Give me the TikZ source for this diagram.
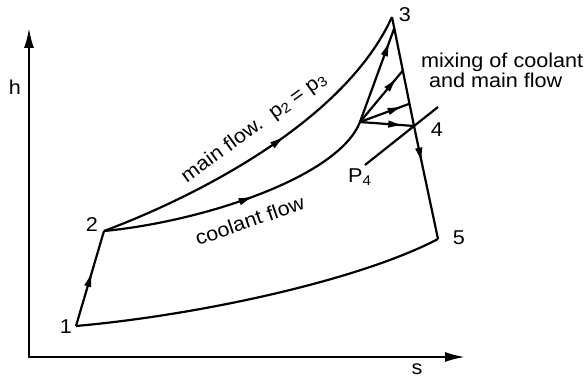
\documentclass[tikz,border=0pt]{standalone}
\usepackage{fontspec}
\setmainfont{Liberation Sans}[FakeStretch=1.08]
\usetikzlibrary{calc}
\usetikzlibrary{arrows.meta}
\usetikzlibrary{decorations.markings}
\newcommand\lowidx[1]{\raisebox{-2.5pt}{\fontsize{14}{14}\selectfont #1}}

\begin{document}
\begin{tikzpicture}[x=1pt,y=-1pt,line width=2.2pt,
  lbl/.style={font=\fontsize{20}{22}\selectfont,inner sep=0pt},
  flowarrow/.style={postaction={decorate},decoration={markings,mark=at position #1 with {\arrow{Latex[length=16pt,width=7.5pt]}}}}]
\def\axtip{Latex[length=20pt,width=10pt]}
\useasboundingbox (0,0) rectangle (584,379);

\coordinate (p1) at (76,326);
\coordinate (p2) at (104,231);
\coordinate (p3) at (392,17);
\coordinate (p4) at (414,126);
\coordinate (p5) at (438,239);
\coordinate (mix) at (360,122);
\coordinate (org) at (29,357);
\coordinate (htip) at (29,28);
\coordinate (stip) at (465,357);
\coordinate (isoA) at (365,165);
\coordinate (isoB) at (438,107);

% axes
\draw[{\axtip}-{\axtip}] (htip) -- (org) -- (stip);

% cycle
\draw[flowarrow=0.58] (p1) -- (p2);
\draw[flowarrow=0.56] (p2) .. controls (200,195) and (345,120) .. (p3);
\draw[flowarrow=0.54] (p2) .. controls (200,222) and (338,178) .. (mix);
\draw[flowarrow=0.66] (p3) -- (p4) -- (p5);
\draw (p1) .. controls (200,315) and (360,280) .. (p5);
\draw (isoA) -- (isoB);

% mixing fan
\foreach \f in {0.05,0.24,0.39} \draw[flowarrow=0.87] (mix) -- ($(p3)!\f!(p5)$);
\draw[flowarrow=0.82] (mix) -- (p4);

% labels
\node[lbl,anchor=base] (haxis) at (15,95) {h};
\node[lbl,anchor=base] (saxis) at (417,375) {s};
\foreach \n/\x/\y in {1/66/334, 2/92/232, 3/405/22, 4/437/137, 5/459/245}
  \node[lbl,anchor=base] (l\n) at (\x,\y) {\n};
\node[lbl,anchor=base west,rotate=36] (mainlbl) at (186,184) {main flow.\ \ p\lowidx{2} = p\lowidx{3}};
\node[lbl,anchor=base west,rotate=19] (coollbl) at (197,246) {coolant flow};
\node[lbl,anchor=base west] (isolbl) at (347,183) {P\lowidx{4}};
\node[lbl,anchor=base west] (mixlbl) at (420,68) {mixing of coolant};
\node[lbl,anchor=base west] (mixlblb) at (428,88) {and main flow};
\end{tikzpicture}
\end{document}
